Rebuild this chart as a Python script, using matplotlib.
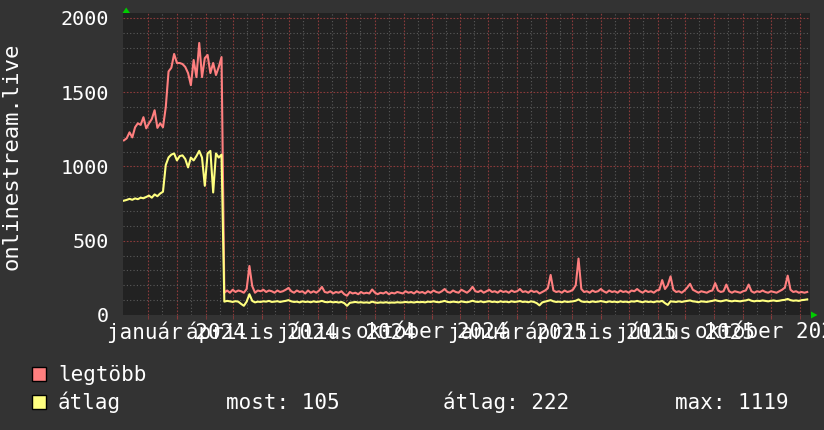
import datetime as dt
import pandas as pd
import matplotlib
matplotlib.use("Agg")
import matplotlib.pyplot as plt
from matplotlib.patches import Rectangle, Polygon

# mintak 3 naponta, 2023-11-05-tol
kezdes = "2023-11-05"
lepes = "3D"

legtobb = [
    1176, 1190, 1230, 1196, 1264, 1291, 1280, 1332, 1257, 1291,
    1320, 1379, 1260, 1291, 1264, 1399, 1640, 1665, 1758, 1697,
    1697, 1690, 1670, 1629, 1548, 1717, 1602, 1832, 1602, 1730,
    1751, 1629, 1697, 1616, 1670, 1737,
    150, 165, 150, 170, 155, 165, 160, 150, 175, 330,
    195, 150, 165, 160, 170, 155, 165, 160, 150, 165,
    155, 160, 170, 182, 160, 150, 165, 155, 160, 145,
    165, 150, 160, 150, 165, 189, 155, 150, 160, 145,
    155, 150, 160, 140, 130, 155, 145, 150, 140, 155,
    145, 150, 145, 172, 150, 140, 150, 145, 155, 140,
    150, 145, 155, 150, 145, 160, 150, 155, 145, 160,
    150, 155, 145, 160, 150, 165, 155, 150, 160, 175,
    155, 150, 165, 155, 150, 170, 160, 150, 165, 190,
    160, 155, 165, 150, 160, 170, 155, 160, 150, 165,
    155, 160, 150, 165, 155, 160, 175, 155, 160, 150,
    165, 155, 160, 145, 155, 165, 180, 270, 165, 155,
    160, 150, 165, 155, 160, 170, 200, 380, 175, 155,
    160, 150, 165, 155, 160, 175, 160, 150, 165, 155,
    160, 150, 165, 155, 160, 150, 165, 160, 175, 160,
    150, 165, 155, 160, 150, 165, 170, 235, 175, 200,
    260, 170, 155, 160, 150, 165, 185, 210, 170, 160,
    150, 160, 155, 150, 160, 165, 215, 165, 155, 160,
    205, 160, 150, 160, 155, 150, 160, 165, 205, 160,
    150, 160, 155, 165, 155, 150, 160, 155, 150, 160,
    170, 185, 265, 170, 155, 160, 150, 155, 150, 155,
]

atlag = [
    770, 775, 782, 776, 785, 780, 790, 786, 795, 804,
    790, 812, 800, 818, 830, 1010, 1061, 1080, 1088, 1041,
    1070, 1075, 1050, 994, 1060, 1041, 1070, 1105, 1060, 870,
    1088, 1105, 825, 1088, 1060, 1080,
    90, 95, 92, 88, 93, 90, 75, 62, 90, 140,
    95, 85, 90, 88, 92, 90, 95, 88, 90, 93,
    88, 92, 95, 100, 92, 88, 90, 85, 92, 88,
    90, 86, 92, 88, 90, 95, 88, 86, 90, 85,
    88, 84, 88, 80, 62, 82, 85, 88, 84, 86,
    83, 85, 82, 90, 84, 82, 85, 83, 86, 82,
    84, 83, 86, 84, 85, 88, 85, 87, 84, 88,
    86, 88, 85, 90, 88, 92, 88, 86, 90, 95,
    88, 86, 90, 88, 85, 92, 88, 86, 90, 96,
    90, 88, 92, 86, 90, 93, 88, 90, 86, 92,
    88, 90, 86, 92, 88, 90, 94, 88, 90, 86,
    92, 88, 80, 65, 85, 90, 95, 100, 92, 88,
    90, 86, 92, 88, 90, 92, 96, 105, 92, 88,
    90, 86, 92, 88, 90, 94, 90, 86, 92, 88,
    90, 86, 92, 88, 90, 86, 92, 90, 95, 90,
    86, 92, 88, 90, 86, 92, 90, 95, 80, 68,
    92, 90, 88, 92, 88, 92, 95, 98, 92, 90,
    86, 92, 90, 88, 92, 95, 100, 95, 92, 96,
    100, 95, 92, 96, 94, 92, 96, 98, 104, 96,
    92, 96, 94, 98, 95, 92, 96, 98, 94, 96,
    100, 102, 108, 100, 96, 98, 95, 100, 102, 105,
]

negyedevek = ["2024-01-01", "2024-04-01", "2024-07-01", "2024-10-01",
              "2025-01-01", "2025-04-01", "2025-07-01", "2025-10-01"]
negyedev_cimkek = ["január 2024", "április 2024", "július 2024", "október 2024",
                   "január 2025", "április 2025", "július 2025", "október 2025"]
y_ertekek = [0, 500, 1000, 1500, 2000]

most, atl, maxi = 105, 222, 1119

W, H = 824, 430
HATTER = "#333333"
RAJZ = "#222222"
PIROS = "#ff7f7f"
SARGA = "#ffff80"
ZOLD = "#00cc00"
BETU = "DejaVu Sans Mono"

fig = plt.figure(figsize=(W / 100, H / 100), dpi=100, facecolor=HATTER)
ax = fig.add_axes([123 / W, 1 - 315 / H, 687 / W, 302 / H], facecolor=RAJZ)

ido_p = pd.date_range(kezdes, periods=len(legtobb), freq=lepes)
ido_s = pd.date_range(kezdes, periods=len(atlag), freq=lepes)

xmin, xmax = dt.datetime(2023, 11, 4), dt.datetime(2025, 11, 12)
ymax = 2000 + 5 * 2000 / 297

# racs
honapok = pd.date_range("2023-12-01", "2025-11-30", freq="MS")
for h in honapok:
    ax.axvline(h + pd.Timedelta(days=15), color="#5a5a5a", lw=0.8, ls=(0, (1, 2)), zorder=1)
for h in honapok:
    ax.axvline(h, color="#8a3a3a", lw=0.8, ls=(0, (1.5, 1.5)), zorder=1)
for v in range(100, 2001, 100):
    if v % 500:
        ax.axhline(v, color="#5a5a5a", lw=0.8, ls=(0, (1, 2)), zorder=1)
    else:
        ax.axhline(v, color="#8a3a3a", lw=0.8, ls=(0, (1.5, 1.5)), zorder=1)

ax.plot(ido_p, legtobb, color=PIROS, lw=1.5, zorder=3)
ax.plot(ido_s, atlag, color=SARGA, lw=1.5, zorder=4)

ax.set_xlim(xmin, xmax)
ax.set_ylim(0, ymax)
for s in ax.spines.values():
    s.set_visible(False)

ax.set_xticks(pd.to_datetime(negyedevek), negyedev_cimkek)
ax.set_xticks(honapok, minor=True)
ax.tick_params(axis="x", which="both", length=3, color="#8a3a3a", direction="out")
ax.tick_params(axis="x", which="major", labelsize=15, labelcolor="white", pad=2)
ax.set_yticks(y_ertekek, [str(v) for v in y_ertekek])
ax.tick_params(axis="y", length=0, labelsize=14.5, labelcolor="white", pad=10)
for t in ax.get_xticklabels() + ax.get_yticklabels():
    t.set_family(BETU)

fig.text(12 / W, 1 - 156 / H, "onlinestream.live", rotation=90, ha="center",
         va="center", color="white", fontsize=16, family=BETU)

# nyilak
def px(x, y):
    return (x / W, 1 - y / H)

fig.add_artist(Polygon([px(122.5, 13), px(130, 13), px(126.2, 7.5)], closed=True,
                       transform=fig.transFigure, fc=ZOLD, ec="none"))
fig.add_artist(Polygon([px(811, 311.5), px(811, 318.5), px(817.5, 315)], closed=True,
                       transform=fig.transFigure, fc=ZOLD, ec="none"))

# jelmagyarazat
for szin, y0 in [(PIROS, 367), (SARGA, 395)]:
    fig.add_artist(Rectangle(px(32, y0 + 14), 14 / W, 14 / H, transform=fig.transFigure,
                             fc=szin, ec="black", lw=1))
fig.text(58 / W, 1 - 381 / H, "legtöbb", color="white", fontsize=15, family=BETU, va="baseline")
fig.text(58 / W, 1 - 409 / H, "átlag", color="white", fontsize=15, family=BETU, va="baseline")
fig.text(226 / W, 1 - 409 / H, f"most: {most}", color="white", fontsize=15, family=BETU, va="baseline")
fig.text(443 / W, 1 - 409 / H, f"átlag: {atl}", color="white", fontsize=15, family=BETU, va="baseline")
fig.text(675 / W, 1 - 409 / H, f"max: {maxi}", color="white", fontsize=15, family=BETU, va="baseline")

fig.savefig("out.png", dpi=100, facecolor=HATTER)
